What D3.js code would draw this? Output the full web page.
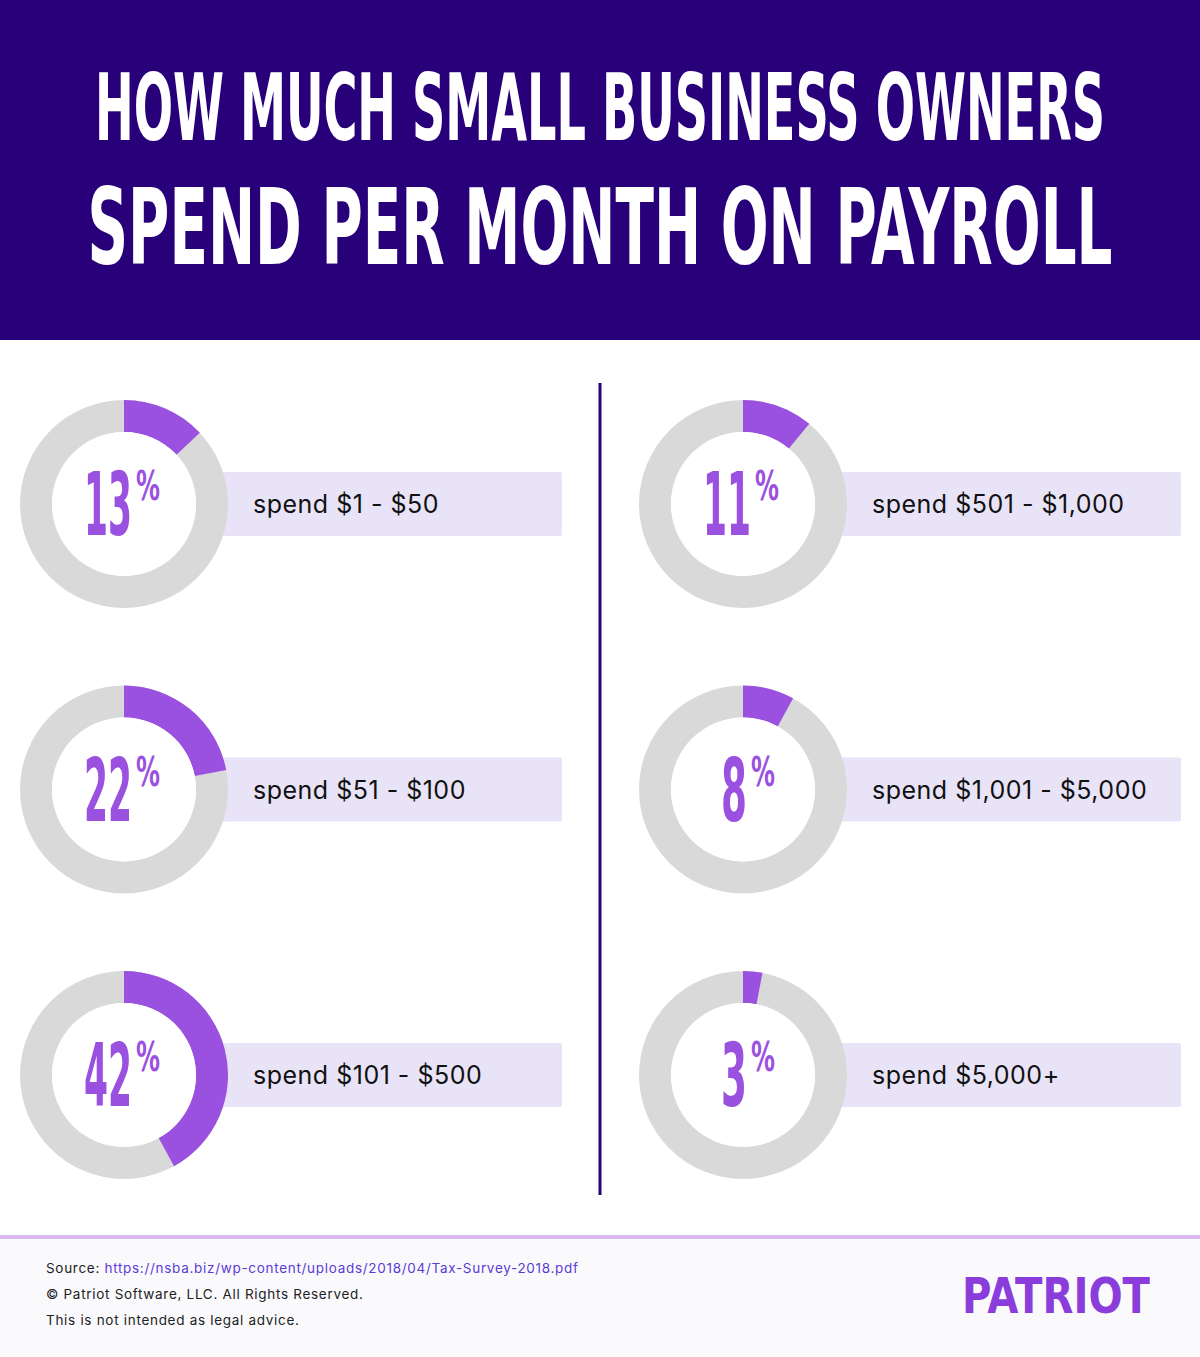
<!DOCTYPE html>
<html><head><meta charset="utf-8">
<script src="https://cdn.jsdelivr.net/npm/d3@7"></script>
<style>body{margin:0;background:#fff}svg{display:block}</style>
</head><body>
<script>
const percents = [13, 22, 42, 11, 8, 3];
const labels = ["spend $1 - $50", "spend $51 - $100", "spend $101 - $500",
                "spend $501 - $1,000", "spend $1,001 - $5,000", "spend $5,000+"];
const titleLines = ["HOW MUCH SMALL BUSINESS OWNERS", "SPEND PER MONTH ON PAYROLL"];
const footerLines = ["© Patriot Software, LLC. All Rights Reserved.", "This is not intended as legal advice."];
const sourceUrl = "https://nsba.biz/wp-content/uploads/2018/04/Tax-Survey-2018.pdf";

const W = 1200, H = 1357;
const svg = d3.select("body").append("svg").attr("width", W).attr("height", H);
const cond = "'Liberation Sans Narrow','DejaVu Sans Condensed','Roboto Condensed',Roboto,sans-serif";

svg.append("rect").attr("width", W).attr("height", 340).attr("fill", "#27007a");
svg.append("text").attr("x", 600).attr("y", 140).attr("text-anchor", "middle")
  .attr("font-family", cond).attr("font-weight", 700).attr("font-size", 92).attr("fill", "#fff")
  .attr("textLength", 1010).attr("lengthAdjust", "spacingAndGlyphs").text(titleLines[0]);
svg.append("text").attr("x", 600).attr("y", 264).attr("text-anchor", "middle")
  .attr("font-family", cond).attr("font-weight", 700).attr("font-size", 106).attr("fill", "#fff")
  .attr("textLength", 1025).attr("lengthAdjust", "spacingAndGlyphs").text(titleLines[1]);

svg.append("line").attr("x1", 600).attr("x2", 600).attr("y1", 383).attr("y2", 1195)
  .attr("stroke", "#27007a").attr("stroke-width", 3);

const rowY = d3.scalePoint().domain([0, 1, 2]).range([504, 1075]);
const colX = d3.scalePoint().domain([0, 1]).range([124, 743]);
const angle = d3.scaleLinear().domain([0, 100]).range([0, 2 * Math.PI]);
const arc = d3.arc().innerRadius(72).outerRadius(104);

percents.forEach((p, i) => {
  const cx = colX(Math.floor(i / 3)), cy = rowY(i % 3);
  const g = svg.append("g").attr("transform", `translate(${cx},${cy})`);
  g.append("rect").attr("x", 98).attr("y", -32).attr("width", 340).attr("height", 64)
    .attr("rx", 2).attr("fill", "#e8e3f7");
  g.append("path").attr("d", arc({startAngle: 0, endAngle: 2 * Math.PI})).attr("fill", "#d9d9d9");
  g.append("path").attr("d", arc({startAngle: 0, endAngle: angle(p)})).attr("fill", "#9b51e0");
  g.append("circle").attr("r", 72).attr("fill", "#fff");
  const s = String(p);
  const nw = s.length === 1 ? 26 : 48;
  const total = nw + 4 + 24;
  const x0 = (s.length === 1 ? 5 : -2) - total / 2;
  g.append("text").attr("x", x0).attr("y", 31)
    .attr("font-family", cond).attr("font-weight", 700).attr("font-size", 88).attr("fill", "#9b51e0")
    .attr("textLength", nw).attr("lengthAdjust", "spacingAndGlyphs").text(s);
  g.append("text").attr("x", x0 + nw + 4).attr("y", -4)
    .attr("font-family", cond).attr("font-weight", 700).attr("font-size", 40).attr("fill", "#9b51e0")
    .attr("textLength", 24).attr("lengthAdjust", "spacingAndGlyphs").text("%");
  g.append("text").attr("x", 129).attr("y", 9).attr("font-family", "Inter,'Liberation Sans',sans-serif")
    .attr("font-size", 25).attr("letter-spacing", 0.5).attr("fill", "#111").text(labels[i]);
});

svg.append("rect").attr("y", 1239).attr("width", W).attr("height", H - 1239).attr("fill", "#fafafd");
svg.append("line").attr("x1", 0).attr("x2", W).attr("y1", 1237).attr("y2", 1237)
  .attr("stroke", "#d9b8f0").attr("stroke-width", 4);
const ft = svg.append("text").attr("x", 46).attr("y", 1273).attr("font-family", "Inter,sans-serif")
  .attr("font-size", 13.5).attr("letter-spacing", 0.7).attr("fill", "#222");
ft.append("tspan").text("Source: ");
ft.append("tspan").attr("fill", "#5b3ad6").text(sourceUrl);
footerLines.forEach((t, i) => svg.append("text").attr("x", 46).attr("y", 1299 + i * 26)
  .attr("font-family", "Inter,sans-serif").attr("font-size", 13.5).attr("letter-spacing", 0.7)
  .attr("fill", "#222").text(t));
svg.append("text").attr("x", 962).attr("y", 1313).attr("font-family", cond).attr("font-weight", 700)
  .attr("font-size", 50).attr("fill", "#8a3ddb").attr("textLength", 188)
  .attr("lengthAdjust", "spacingAndGlyphs").text("PATRIOT");
</script>
</body></html>
